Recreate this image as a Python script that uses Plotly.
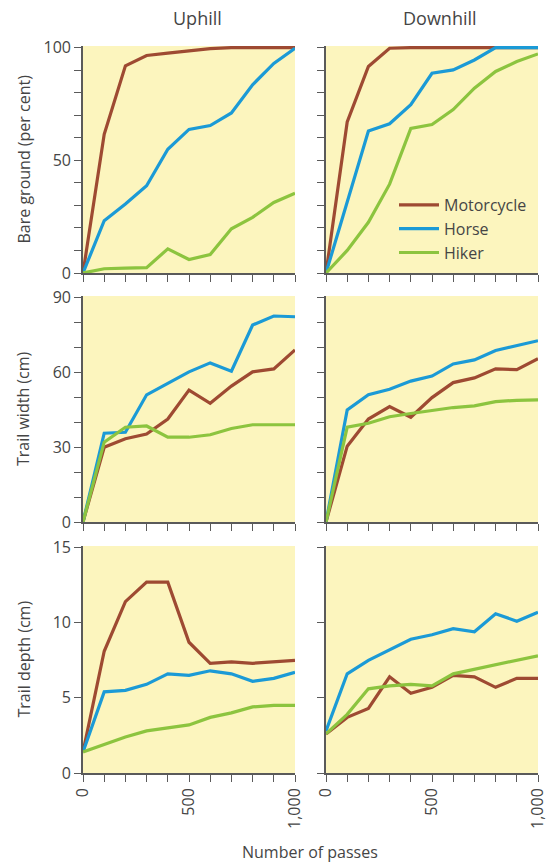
import plotly.graph_objects as go

passes = [0, 100, 200, 300, 400, 500, 600, 700, 800, 900, 1000]

# Bare ground (per cent)
bare_up_motorcycle = [0, 61.5, 91.9, 96.5, 97.5, 98.5, 99.5, 100, 100, 100, 100]
bare_up_horse = [0, 23.2, 30.6, 38.7, 54.9, 63.7, 65.4, 71, 83.5, 93, 99.7]
bare_up_hiker = [0, 1.9, 2.2, 2.4, 10.7, 6.0, 8.2, 19.6, 24.7, 31.3, 35.4]
bare_down_motorcycle = [0, 67, 91.6, 99.7, 100, 100, 100, 100, 100, 100, 100]
bare_down_horse = [0, 32, 63, 66.2, 74.7, 88.6, 90.1, 94.5, 100, 100, 100]
bare_down_hiker = [0, 10, 22.5, 39.4, 64.1, 65.9, 72.5, 82, 89.4, 93.8, 97.2]

# Trail width (cm)
width_up_motorcycle = [0, 30, 33.4, 35.3, 41.3, 52.9, 47.6, 54.5, 60.2, 61.4, 69]
width_up_horse = [0, 35.6, 36, 51, 55.6, 60.2, 63.8, 60.5, 79, 82.6, 82.3]
width_up_hiker = [0, 32, 38, 38.5, 34, 34, 35, 37.5, 39, 39, 39]
width_down_motorcycle = [0, 30.4, 41.3, 46.3, 42, 49.9, 55.9, 57.8, 61.4, 61.1, 65.5]
width_down_horse = [0, 44.9, 51, 53.2, 56.5, 58.5, 63.4, 65, 68.8, 70.8, 72.7]
width_down_hiker = [0, 38, 39.6, 42.2, 43.5, 44.6, 45.9, 46.6, 48.3, 48.8, 49]

# Trail depth (cm)
depth_up_motorcycle = [1.4, 8.1, 11.4, 12.7, 12.7, 8.7, 7.3, 7.4, 7.3, 7.4, 7.5]
depth_up_horse = [1.4, 5.4, 5.5, 5.9, 6.6, 6.5, 6.8, 6.6, 6.1, 6.3, 6.7]
depth_up_hiker = [1.4, 1.9, 2.4, 2.8, 3.0, 3.2, 3.7, 4.0, 4.4, 4.5, 4.5]
depth_down_motorcycle = [2.6, 3.7, 4.3, 6.4, 5.3, 5.7, 6.5, 6.4, 5.7, 6.3, 6.3]
depth_down_horse = [2.8, 6.6, 7.5, 8.2, 8.9, 9.2, 9.6, 9.4, 10.6, 10.1, 10.7]
depth_down_hiker = [2.6, 3.9, 5.6, 5.8, 5.9, 5.8, 6.6, 6.9, 7.2, 7.5, 7.8]

series_names = ["Motorcycle", "Horse", "Hiker"]
column_titles = ["Uphill", "Downhill"]
row_titles = ["Bare ground (per cent)", "Trail width (cm)", "Trail depth (cm)"]
x_title = "Number of passes"
x_label_vals = [0, 500, 1000]
x_tick_labels = ["0", "500", "1,000"]

colors = {"Motorcycle": "#9E4A32", "Horse": "#1B9AD6", "Hiker": "#8CC43F"}
text_color = "#454545"
axis_color = "#5a5a5a"
bg = "#FCF5BE"
font_family = "Open Sans, Lato, sans-serif"

W, H = 550, 864
col_px = [(83, 295), (326, 538)]
row_px = [(46, 273), (296, 522), (546, 773)]
y_ranges = [(0, 100), (0, 90), (0, 15)]
y_dtick = [10, 10, 5]
y_label_vals = [[0, 50, 100], [0, 30, 60, 90], [0, 5, 10, 15]]

panels = [
    [(bare_up_motorcycle, bare_up_horse, bare_up_hiker),
     (bare_down_motorcycle, bare_down_horse, bare_down_hiker)],
    [(width_up_motorcycle, width_up_horse, width_up_hiker),
     (width_down_motorcycle, width_down_horse, width_down_hiker)],
    [(depth_up_motorcycle, depth_up_horse, depth_up_hiker),
     (depth_down_motorcycle, depth_down_horse, depth_down_hiker)],
]

fig = go.Figure()
layout = {}
idx = 0
for r in range(3):
    for c in range(2):
        idx += 1
        xa = "x" if idx == 1 else f"x{idx}"
        ya = "y" if idx == 1 else f"y{idx}"
        xkey = "xaxis" if idx == 1 else f"xaxis{idx}"
        ykey = "yaxis" if idx == 1 else f"yaxis{idx}"
        for name, vals in zip(series_names, panels[r][c]):
            fig.add_trace(go.Scatter(
                x=passes, y=vals, mode="lines", name=name,
                line=dict(color=colors[name], width=3.2),
                xaxis=xa, yaxis=ya,
                showlegend=(r == 0 and c == 1),
            ))
        x0, x1 = col_px[c]
        y0, y1 = row_px[r]
        xt = list(range(0, 1001, 100))
        xtext = []
        for v in xt:
            if r == 2 and v in x_label_vals:
                xtext.append(x_tick_labels[x_label_vals.index(v)])
            else:
                xtext.append("")
        layout[xkey] = dict(
            domain=[x0 / W, x1 / W], range=[0, 1000], anchor=ya, automargin=False,
            tickvals=xt, ticktext=xtext,
            tickangle=-90, ticks="outside", ticklen=7, tickwidth=1.3, tickcolor=axis_color,
            showline=True, linecolor=axis_color, linewidth=1.6, showgrid=False, zeroline=False,
            tickfont=dict(size=16, color=text_color, family=font_family),
        )
        lo, hi = y_ranges[r]
        yt = list(range(lo, hi + 1, y_dtick[r]))
        pad = (hi - lo) * 0.007
        layout[ykey] = dict(
            domain=[1 - y1 / H, 1 - y0 / H], range=[lo, hi + pad], anchor=xa, automargin=False,
            tickvals=yt,
            ticktext=[(str(v) if (c == 0 and v in y_label_vals[r]) else "") for v in yt],
            ticks="outside", ticklen=7, tickwidth=1.3, tickcolor=axis_color,
            showline=True, linecolor=axis_color, linewidth=1.6, showgrid=False, zeroline=False,
            tickfont=dict(size=16, color=text_color, family=font_family),
        )
        fig.add_shape(type="rect", xref=f"{xa} domain", yref=f"{ya} domain",
                      x0=0, x1=1, y0=0, y1=1, fillcolor=bg, line_width=0, layer="below")

annotations = []
for c, title in enumerate(column_titles):
    cx = [197, 440][c]
    annotations.append(dict(text=title, x=cx / W, y=1 - 18 / H, xref="paper", yref="paper",
                            showarrow=False, xanchor="center", yanchor="middle",
                            font=dict(size=18, color=text_color, family=font_family)))
for r, title in enumerate(row_titles):
    cy = (row_px[r][0] + row_px[r][1]) / 2
    annotations.append(dict(text=title, x=23 / W, y=1 - cy / H, xref="paper", yref="paper",
                            showarrow=False, textangle=-90, xanchor="center", yanchor="middle",
                            font=dict(size=16, color=text_color, family=font_family)))
annotations.append(dict(text=x_title, x=310 / W, y=1 - 852 / H, xref="paper", yref="paper",
                        showarrow=False, xanchor="center", yanchor="middle",
                        font=dict(size=16, color=text_color, family=font_family)))

fig.update_layout(
    width=W, height=H, margin=dict(l=0, r=0, t=0, b=0, pad=0),
    paper_bgcolor="white", plot_bgcolor="rgba(0,0,0,0)",
    showlegend=True,
    legend=dict(x=394 / W, y=1 - 188 / H, xanchor="left", yanchor="top",
                bgcolor="rgba(0,0,0,0)", borderwidth=0, tracegroupgap=0,
                itemwidth=40,
                font=dict(size=16, color=text_color, family=font_family)),
    annotations=annotations,
    **layout,
)

fig.write_html(
    "out.html",
    config={"displayModeBar": False},
    post_script="document.body.style.margin='0';document.body.style.overflow='hidden';",
)
